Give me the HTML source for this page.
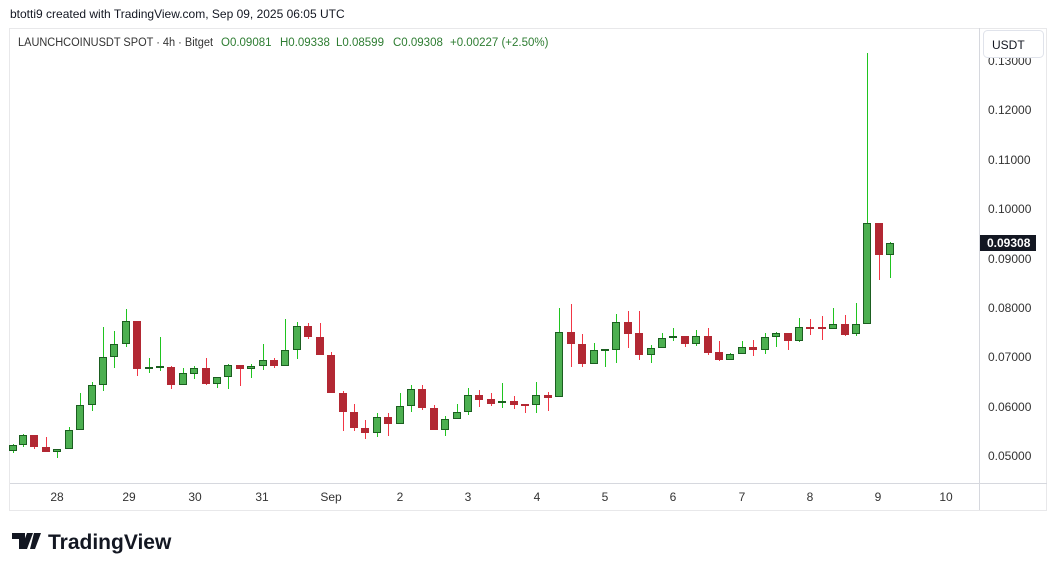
<!DOCTYPE html>
<html><head><meta charset="utf-8"><style>
body{margin:0;background:#fff;width:1057px;height:571px;overflow:hidden;font-family:"Liberation Sans",sans-serif}
svg text{font-family:"Liberation Sans",sans-serif}
</style></head><body>
<svg width="1057" height="571" viewBox="0 0 1057 571" xmlns="http://www.w3.org/2000/svg">
<rect width="1057" height="571" fill="#fff"/>
<text x="10" y="18" font-size="12" fill="#131722">btotti9 created with TradingView.com, Sep 09, 2025 06:05 UTC</text>
<rect x="9.5" y="28.5" width="1037" height="482" fill="none" stroke="#e8e8ea"/>
<line x1="979.5" y1="28" x2="979.5" y2="510" stroke="#d6d8de"/>
<line x1="10" y1="483.5" x2="1047" y2="483.5" stroke="#d6d8de"/>
<text x="18" y="46" font-size="11.5" fill="#333" textLength="195" lengthAdjust="spacingAndGlyphs">LAUNCHCOINUSDT SPOT · 4h · Bitget</text>
<g font-size="11.5" fill="#2e7d32"><text x="221" y="46">O0.09081</text><text x="280" y="46">H0.09338</text><text x="336" y="46">L0.08599</text><text x="393" y="46">C0.09308</text><text x="450" y="46">+0.00227 (+2.50%)</text></g>
<g font-size="12" fill="#333">
<text x="988" y="65">0.13000</text>
<text x="988" y="114">0.12000</text>
<text x="988" y="164">0.11000</text>
<text x="988" y="213">0.10000</text>
<text x="988" y="263">0.09000</text>
<text x="988" y="312">0.08000</text>
<text x="988" y="361">0.07000</text>
<text x="988" y="411">0.06000</text>
<text x="988" y="460">0.05000</text>
</g>
<rect x="983.5" y="30.5" width="60" height="27" rx="4" fill="#fff" stroke="#e0e3eb"/>
<text x="992" y="49" font-size="12" fill="#131722">USDT</text>
<rect x="980" y="235" width="56" height="16" fill="#131722"/>
<text x="987" y="247" font-size="12" font-weight="bold" fill="#fff">0.09308</text>
<g font-size="12" fill="#333" text-anchor="middle">
<text x="57" y="501">28</text><text x="129" y="501">29</text><text x="195" y="501">30</text><text x="262" y="501">31</text><text x="331" y="501">Sep</text><text x="400" y="501">2</text><text x="468" y="501">3</text><text x="537" y="501">4</text><text x="605" y="501">5</text><text x="673" y="501">6</text><text x="742" y="501">7</text><text x="810" y="501">8</text><text x="878" y="501">9</text><text x="946" y="501">10</text>
</g>
<path d="M12 533h13v16h-6v-10h-7z M27 533h6l-6 16h-6z M34 533h7l-6 16h-5z" fill="#131722"/>
<text x="48" y="549" font-size="21" font-weight="bold" fill="#131722">TradingView</text>
<path fill="none" stroke="#1fc41f" stroke-width="1" d="M13.5 444V453M23.5 434V447M57.5 449V458M69.5 427V449M80.5 393V430M92.5 382V411M103.5 327V391M114.5 331V368M126.5 309V347M149.5 358V373M160.5 337V371M183.5 368V385M194.5 366V379M217.5 377V388M228.5 364V389M251.5 364V378M263.5 344V370M285.5 319V366M297.5 322V359M377.5 413V437M400.5 393V424M411.5 385V412M445.5 416V436M457.5 404V419M468.5 388V415M502.5 383V408M536.5 382V413M559.5 308V397M594.5 343V364M605.5 349V367M616.5 314V363M651.5 345V363M662.5 333V348M673.5 328V341M696.5 330V346M730.5 353V360M742.5 341V354M765.5 333V354M776.5 332V347M799.5 318V342M833.5 308V329M856.5 303V336M867.5 53V324M890.5 242V278"/>
<path fill="none" stroke="#f23645" stroke-width="1" d="M34.5 435V449M46.5 437V452M137.5 321V376M171.5 366V389M206.5 358V385M240.5 365V386M274.5 358V368M308.5 323V339M320.5 323V355M331.5 352V393M343.5 391V431M354.5 404V431M365.5 420V439M388.5 413V436M422.5 385V410M434.5 405V430M479.5 390V407M491.5 393V406M514.5 396V409M525.5 404V413M548.5 392V411M571.5 304V367M582.5 334V367M628.5 311V348M639.5 311V360M685.5 336V347M708.5 328V355M719.5 341V361M753.5 340V356M788.5 333V350M810.5 319V335M822.5 316V340M845.5 315V336M879.5 223V280"/>
<path fill="#4caf50" stroke="#1b5e20" stroke-width="1" d="M9.5 445.5h7v5h-7zM19.5 435.5h7v9h-7zM53.5 449.5h7v2h-7zM65.5 430.5h7v18h-7zM76.5 405.5h7v24h-7zM88.5 385.5h7v19h-7zM99.5 357.5h7v27h-7zM110.5 344.5h7v12h-7zM122.5 321.5h7v22h-7zM145.5 367.5h7v1h-7zM156.5 366.5h7v1h-7zM179.5 373.5h7v11h-7zM190.5 368.5h7v5h-7zM213.5 377.5h7v6h-7zM224.5 365.5h7v11h-7zM247.5 366.5h7v2h-7zM259.5 360.5h7v5h-7zM281.5 350.5h7v15h-7zM293.5 326.5h7v23h-7zM373.5 417.5h7v15h-7zM396.5 406.5h7v17h-7zM407.5 389.5h7v16h-7zM441.5 419.5h7v10h-7zM453.5 412.5h7v6h-7zM464.5 395.5h7v16h-7zM498.5 401.5h7v1h-7zM532.5 395.5h7v9h-7zM555.5 332.5h7v64h-7zM590.5 350.5h7v13h-7zM601.5 349.5h7v1h-7zM612.5 322.5h7v27h-7zM647.5 348.5h7v6h-7zM658.5 338.5h7v9h-7zM669.5 336.5h7v1h-7zM692.5 336.5h7v7h-7zM726.5 354.5h7v5h-7zM738.5 347.5h7v6h-7zM761.5 337.5h7v12h-7zM772.5 333.5h7v3h-7zM795.5 327.5h7v13h-7zM829.5 324.5h7v4h-7zM852.5 324.5h7v9h-7zM863.5 223.5h7v100h-7zM886.5 243.5h7v11h-7z"/>
<path fill="#b22833" d="M30 435h8v12h-8zM42 447h8v5h-8zM133 321h8v48h-8zM167 367h8v18h-8zM202 368h8v16h-8zM236 365h8v4h-8zM270 360h8v6h-8zM304 326h8v11h-8zM316 337h8v18h-8zM327 355h8v38h-8zM339 393h8v19h-8zM350 412h8v16h-8zM361 428h8v5h-8zM384 417h8v7h-8zM418 389h8v19h-8zM430 408h8v22h-8zM475 395h8v5h-8zM487 399h8v5h-8zM510 401h8v4h-8zM521 404h8v2h-8zM544 395h8v3h-8zM567 332h8v12h-8zM578 344h8v20h-8zM624 322h8v12h-8zM635 333h8v22h-8zM681 336h8v8h-8zM704 336h8v17h-8zM715 352h8v8h-8zM749 347h8v3h-8zM784 333h8v8h-8zM806 327h8v2h-8zM818 327h8v2h-8zM841 324h8v11h-8zM875 223h8v32h-8z"/>
</svg>
</body></html>
